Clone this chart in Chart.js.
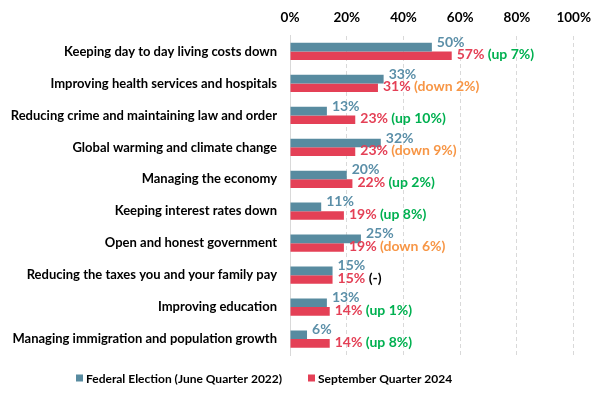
<!DOCTYPE html>
<html>
<head>
<meta charset="utf-8">
<script src="https://cdn.jsdelivr.net/npm/chart.js@4"></script>
<style>
  html, body { margin: 0; padding: 0; background: #fff; }
  #wrap { width: 602px; height: 393px; }
</style>
</head>
<body>
<div id="wrap"><canvas id="grafico"></canvas></div>
<script>
var categorias = [
    "Keeping day to day living costs down",
    "Improving health services and hospitals",
    "Reducing crime and maintaining law and order",
    "Global warming and climate change",
    "Managing the economy",
    "Keeping interest rates down",
    "Open and honest government",
    "Reducing the taxes you and your family pay",
    "Improving education",
    "Managing immigration and population growth"
];
var eleicao2022 = [50, 33, 13, 32, 20, 11, 25, 15, 13, 6];
var setembro2024 = [57, 31, 23, 23, 22, 19, 19, 15, 14, 14];
var mudancas = ["(up 7%)", "(down 2%)", "(up 10%)", "(down 9%)", "(up 2%)",
                "(up 8%)", "(down 6%)", "(-)", "(up 1%)", "(up 8%)"];
var ticksX = [0, 20, 40, 60, 80, 100];

var azul = '#588ba0';
var vermelho = '#e44056';
var fonte = 'Lato, "Open Sans", sans-serif';

function corMudanca(txt) {
    if (txt.indexOf('up') >= 0) return '#00b050';
    if (txt.indexOf('down') >= 0) return '#f79646';
    return '#000000';
}

// rotulos dos valores ao lado das barras
var rotulos = {
    id: 'rotulos',
    afterDatasetsDraw: function (chart) {
        var ctx = chart.ctx;
        var m0 = chart.getDatasetMeta(0);
        var m1 = chart.getDatasetMeta(1);
        ctx.save();
        ctx.font = 'bold 14px ' + fonte;
        ctx.textBaseline = 'middle';
        ctx.textAlign = 'left';
        for (let i = 0; i < categorias.length; i++) {
            var b0 = m0.data[i];
            var b1 = m1.data[i];
            ctx.fillStyle = '#5b8fa8';
            ctx.fillText(eleicao2022[i] + '%', b0.x + 5, b0.y - 5);
            var t = setembro2024[i] + '% ';
            ctx.fillStyle = vermelho;
            ctx.fillText(t, b1.x + 5, b1.y - 1);
            var w = ctx.measureText(t).width;
            ctx.fillStyle = corMudanca(mudancas[i]);
            ctx.fillText(mudancas[i], b1.x + 5 + w, b1.y - 1);
        }
        ctx.restore();
    }
};

// legenda desenhada a mao, deslocada para a esquerda como no original
var legenda = {
    id: 'legenda',
    afterDraw: function (chart) {
        var ctx = chart.ctx;
        var y = 378;
        var itens = [
            { x: 76, cor: azul, txt: chart.data.datasets[0].label },
            { x: 308, cor: vermelho, txt: chart.data.datasets[1].label }
        ];
        ctx.save();
        ctx.font = 'bold 12px ' + fonte;
        ctx.textBaseline = 'middle';
        ctx.textAlign = 'left';
        itens.forEach(function (it) {
            ctx.fillStyle = it.cor;
            ctx.fillRect(it.x, y - 3.5, 7, 7);
            ctx.fillStyle = '#000';
            ctx.fillText(it.txt, it.x + 10, y + 1);
        });
        ctx.restore();
    }
};

var context = document.getElementById("grafico");
var chartBarras = new Chart(context, {
    type: 'bar',
    data: {
        labels: categorias,
        datasets: [{
            label: "Federal Election (June Quarter 2022)",
            data: eleicao2022,
            backgroundColor: azul,
            borderWidth: 0
        }, {
            label: "September Quarter 2024",
            data: setembro2024,
            backgroundColor: vermelho,
            borderWidth: 0
        }]
    },
    plugins: [rotulos, legenda],
    options: {
        indexAxis: 'y',
        responsive: true,
        maintainAspectRatio: false,
        animation: false,
        datasets: {
            bar: {
                categoryPercentage: 0.54,
                barPercentage: 1
            }
        },
        layout: {
            padding: { top: 0, right: 26, bottom: 38, left: 0 }
        },
        plugins: {
            legend: { display: false },
            tooltip: { enabled: false }
        },
        scales: {
            x: {
                position: 'top',
                min: 0,
                max: 100,
                afterBuildTicks: function (axis) {
                    axis.ticks = ticksX.map(function (v) { return { value: v }; });
                },
                ticks: {
                    color: '#000',
                    padding: 11,
                    font: { family: fonte, size: 13.5, weight: 'bold', lineHeight: 1 },
                    callback: function (v) { return v + '%'; }
                },
                grid: {
                    color: '#d9d9d9',
                    drawTicks: false
                },
                border: { display: false, dash: [4, 3] }
            },
            y: {
                ticks: {
                    color: '#000',
                    padding: 5,
                    font: { family: fonte, size: 13, weight: 'bold' }
                },
                grid: { display: false },
                border: { display: true, color: '#d9d9d9' },
                afterFit: function (axis) {
                    axis.width = 290;
                }
            }
        }
    }
});
</script>
</body>
</html>
